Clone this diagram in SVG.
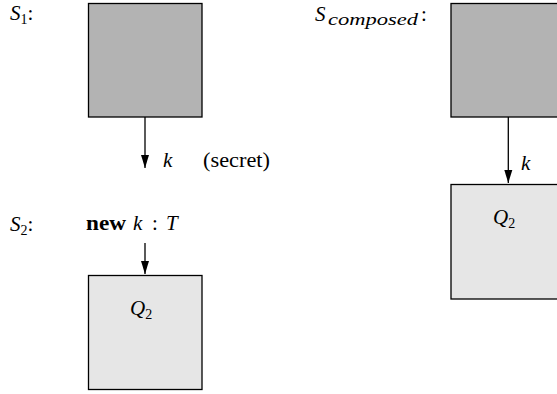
<svg xmlns="http://www.w3.org/2000/svg" width="557" height="394" viewBox="0 0 557 394">
<style>
.dark{fill:#b3b3b3;stroke:#000;stroke-width:1.3}
.light{fill:#e6e6e6;stroke:#000;stroke-width:1.3}
.conn{stroke:#000;stroke-width:1.3;fill:none}
</style>
<defs>
<marker id="ah" markerUnits="userSpaceOnUse" markerWidth="14" markerHeight="10" refX="13" refY="5" orient="auto">
<path d="M0,1 L13,5 L0,9 Z" fill="#000"/>
</marker>
</defs>
<rect width="557" height="394" fill="#fff"/>
<g id="labels">
<text x="10" y="20" font-family="Liberation Serif" font-size="21"><tspan font-style="italic">S</tspan><tspan font-size="14" dy="4">1</tspan><tspan dy="-4">:</tspan></text>
<text x="10" y="231" font-family="Liberation Serif" font-size="21"><tspan font-style="italic">S</tspan><tspan font-size="14" dy="4">2</tspan><tspan dy="-4">:</tspan></text>
<text x="315" y="21" font-family="Liberation Serif" font-size="21"><tspan font-style="italic">S</tspan><tspan x="328" font-style="italic" font-size="16" dy="4" textLength="90" lengthAdjust="spacingAndGlyphs">composed</tspan><tspan x="421" dy="-4">:</tspan></text>
</g>
<g id="S1">
<rect class="dark" x="88.5" y="3.5" width="113.5" height="113.5"/>
</g>
<g id="S2_Q2">
<rect class="light" x="88.5" y="275.5" width="113.5" height="114"/>
<text x="130" y="315" font-family="Liberation Serif" font-size="21"><tspan font-style="italic">Q</tspan><tspan font-size="14" dy="4">2</tspan></text>
</g>
<g id="S2_new">
<text x="86" y="230" font-family="Liberation Serif" font-size="21"><tspan font-weight="bold" textLength="40" lengthAdjust="spacingAndGlyphs">new</tspan><tspan font-style="italic" x="133">k</tspan><tspan x="152">:</tspan><tspan font-style="italic" x="166">T</tspan></text>
</g>
<g id="Scomposed_top">
<rect class="dark" x="451" y="3.5" width="120" height="113.5"/>
</g>
<g id="Scomposed_Q2">
<rect class="light" x="451" y="184.5" width="120" height="114.5"/>
<text x="493" y="224" font-family="Liberation Serif" font-size="21"><tspan font-style="italic">Q</tspan><tspan font-size="14" dy="4">2</tspan></text>
</g>
<g id="connectors">
<line class="conn" x1="145" y1="117" x2="145" y2="168" marker-end="url(#ah)"/>
<line class="conn" x1="145" y1="243" x2="145" y2="274" marker-end="url(#ah)"/>
<line class="conn" x1="508.3" y1="117" x2="508.3" y2="183" marker-end="url(#ah)"/>
<text x="163" y="167" font-family="Liberation Serif" font-size="21"><tspan font-style="italic">k</tspan><tspan x="203" textLength="67" lengthAdjust="spacingAndGlyphs">(secret)</tspan></text>
<text x="521" y="170" font-family="Liberation Serif" font-size="21" font-style="italic">k</text>
</g>
</svg>
